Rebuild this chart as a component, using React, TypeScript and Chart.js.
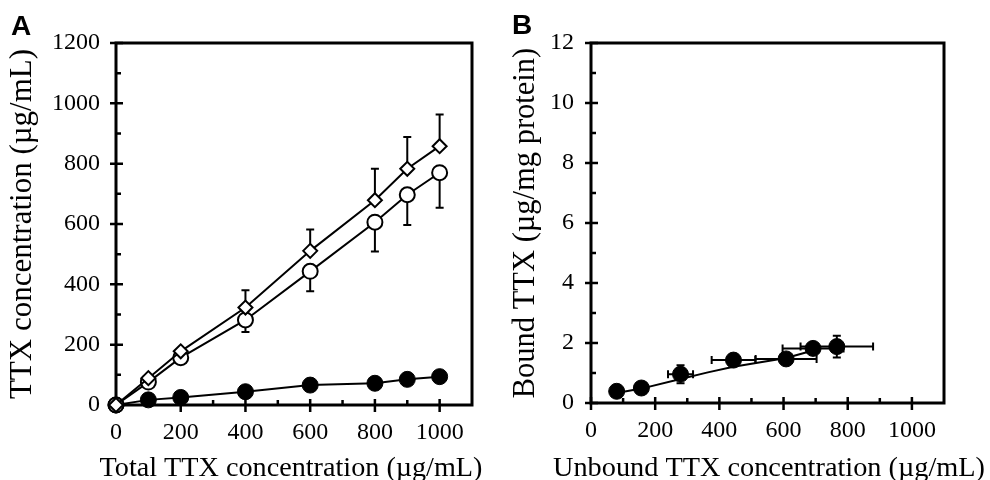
import React, { useEffect, useRef } from "react";
import { Chart, registerables } from "chart.js";
Chart.register(...registerables);

// ---------- Panel A data ----------
const xA = [0, 100, 200, 400, 600, 800, 900, 1000];
const diamondA = [0, 89, 178, 323, 511, 679, 783, 858];
const diamondErrUpA = [0, 0, 0, 57, 71, 104, 105, 105];
const circleA = [0, 76, 157, 282, 443, 606, 697, 770];
const circleErrDownA = [0, 0, 0, 40, 66, 97, 100, 116];
const filledA = [0, 17, 25, 44, 66, 72, 85, 94];
const xTicksA = [0, 200, 400, 600, 800, 1000];
const xMinorA = [100, 300, 500, 700, 900];
const yTicksA = [0, 200, 400, 600, 800, 1000, 1200];
const yMinorA = [100, 300, 500, 700, 900, 1100];

// ---------- Panel B data ----------
const xB = [80, 157, 279, 444, 608, 692, 766];
const yB = [0.39, 0.5, 0.96, 1.43, 1.47, 1.82, 1.88];
const xErrB = [0, 0, 39, 68, 95, 95, 113];
const yErrB = [0, 0, 0.3, 0.05, 0.05, 0.1, 0.36];
const fitXB = [80, 157, 279, 364, 444, 608, 692];
const fitYB = [0.33, 0.48, 0.8, 1.02, 1.21, 1.5, 1.75];
const xTicksB = [0, 200, 400, 600, 800, 1000];
const xMinorB = [100, 300, 500, 700, 900];
const yTicksB = [0, 2, 4, 6, 8, 10, 12];
const yMinorB = [1, 3, 5, 7, 9, 11];

const SERIF = "'Liberation Serif', 'Times New Roman', serif";
const SANS = "'Liberation Sans', Arial, sans-serif";

const pts = (xs: number[], ys: number[]) => xs.map((x, i) => ({ x, y: ys[i] }));

const framePlugin = {
  id: "frame",
  beforeDatasetsDraw(chart: any, _args: any, opts: any) {
    const { ctx, chartArea: ca, scales } = chart;
    ctx.save();
    ctx.strokeStyle = "#000";
    ctx.lineWidth = 3;
    ctx.strokeRect(ca.left, ca.top, ca.right - ca.left, ca.bottom - ca.top);
    ctx.lineWidth = 2.5;
    ctx.beginPath();
    for (const v of opts.xMajor) {
      const p = scales.x.getPixelForValue(v);
      ctx.moveTo(p, ca.bottom - 6);
      ctx.lineTo(p, ca.bottom + 7);
    }
    for (const v of opts.xMinor) {
      const p = scales.x.getPixelForValue(v);
      ctx.moveTo(p, ca.bottom - 5);
      ctx.lineTo(p, ca.bottom);
    }
    for (const v of opts.yMajor) {
      const p = scales.y.getPixelForValue(v);
      ctx.moveTo(ca.left - 6, p);
      ctx.lineTo(ca.left + 7, p);
    }
    for (const v of opts.yMinor) {
      const p = scales.y.getPixelForValue(v);
      ctx.moveTo(ca.left, p);
      ctx.lineTo(ca.left + 5, p);
    }
    ctx.stroke();

    // error bars
    ctx.lineWidth = 2;
    const cap = 4;
    chart.data.datasets.forEach((ds: any, i: number) => {
      const meta = chart.getDatasetMeta(i);
      meta.data.forEach((el: any, j: number) => {
        const d = ds.data[j];
        ctx.beginPath();
        const seg = (y0: number, y1: number) => {
          const a = scales.y.getPixelForValue(y0);
          const b = scales.y.getPixelForValue(y1);
          ctx.moveTo(el.x, a);
          ctx.lineTo(el.x, b);
          ctx.moveTo(el.x - cap, b);
          ctx.lineTo(el.x + cap, b);
        };
        const hseg = (x0: number, x1: number) => {
          const a = scales.x.getPixelForValue(x0);
          const b = scales.x.getPixelForValue(x1);
          ctx.moveTo(a, el.y);
          ctx.lineTo(b, el.y);
          ctx.moveTo(b, el.y - cap);
          ctx.lineTo(b, el.y + cap);
        };
        if (ds.errUp && ds.errUp[j]) seg(d.y, d.y + ds.errUp[j]);
        if (ds.errDown && ds.errDown[j]) seg(d.y, d.y - ds.errDown[j]);
        if (ds.yErr && ds.yErr[j]) {
          seg(d.y, d.y + ds.yErr[j]);
          seg(d.y, d.y - ds.yErr[j]);
        }
        if (ds.xErr && ds.xErr[j]) {
          hseg(d.x, d.x + ds.xErr[j]);
          hseg(d.x, d.x - ds.xErr[j]);
        }
        ctx.stroke();
      });
    });
    ctx.restore();
  },
  afterDraw(chart: any, _args: any, opts: any) {
    const { ctx, chartArea: ca } = chart;
    ctx.save();
    ctx.fillStyle = "#000";
    ctx.font = `bold 28px ${SANS}`;
    ctx.textBaseline = "alphabetic";
    ctx.textAlign = "left";
    ctx.fillText(opts.letter, opts.letterX, opts.letterY);
    // x-axis title (drawn here so it is not squeezed to the axis width)
    ctx.font = `${opts.xTitleSize}px ${SERIF}`;
    ctx.textAlign = "center";
    ctx.fillText(opts.xTitle, (ca.left + ca.right) / 2 + opts.xTitleShift, opts.xTitleBaseline);
    ctx.restore();
  },
};

function makeScales(cfg: any) {
  const tickFont = { family: SERIF, size: 24 };
  return {
    x: {
      type: "linear",
      min: 0,
      max: 1100,
      afterBuildTicks: (s: any) => {
        s.ticks = cfg.xTicks.map((v: number) => ({ value: v }));
      },
      afterFit: (s: any) => {
        s.height = cfg.xHeight;
      },
      grid: { display: false, drawTicks: false },
      border: { display: false },
      ticks: { font: tickFont, color: "#000", padding: 13, maxRotation: 0, autoSkip: false, callback: (v: any) => String(v) },
      title: { display: false },
    },
    y: {
      type: "linear",
      min: 0,
      max: cfg.yMax,
      afterBuildTicks: (s: any) => {
        s.ticks = cfg.yTicks.map((v: number) => ({ value: v }));
      },
      afterFit: (s: any) => {
        s.width = cfg.yWidth;
      },
      grid: { display: false, drawTicks: false },
      border: { display: false },
      ticks: { font: tickFont, color: "#000", padding: cfg.yPad, autoSkip: false, callback: (v: any) => String(v) },
      title: {
        display: true,
        text: cfg.yTitle,
        font: { family: SERIF, size: cfg.yTitleSize, lineHeight: 1.2 },
        color: "#000",
        padding: { top: cfg.yTitlePad, bottom: 0 },
      },
    },
  };
}

function Panel({ which }: { which: "A" | "B" }) {
  const ref = useRef<HTMLCanvasElement | null>(null);
  useEffect(() => {
    if (!ref.current) return;
    let config: any;
    if (which === "A") {
      config = {
        type: "scatter",
        data: {
          datasets: [
            {
              data: pts(xA, diamondA),
              errUp: diamondErrUpA,
              showLine: true,
              borderColor: "#000",
              borderWidth: 2,
              pointStyle: "rectRot",
              pointRadius: 7,
              pointBorderWidth: 2,
              pointBackgroundColor: "#fff",
              pointBorderColor: "#000",
            },
            {
              data: pts(xA, circleA),
              errDown: circleErrDownA,
              showLine: true,
              borderColor: "#000",
              borderWidth: 2,
              pointStyle: "circle",
              pointRadius: 7.5,
              pointBorderWidth: 2,
              pointBackgroundColor: "#fff",
              pointBorderColor: "#000",
            },
            {
              data: pts(xA, filledA),
              showLine: true,
              borderColor: "#000",
              borderWidth: 2,
              pointStyle: "circle",
              pointRadius: 8,
              pointBorderWidth: 1,
              pointBackgroundColor: "#000",
              pointBorderColor: "#000",
            },
          ],
        },
        options: {
          layout: { padding: { left: 0, right: 23, top: 43, bottom: 0 } },
          scales: makeScales({
            xTicks: xTicksA,
            yTicks: yTicksA,
            yMax: 1200,
            xHeight: 75,
            yWidth: 116,
            yPad: 16,
            yTitlePad: 4.5,
            yTitleSize: 31,
            yTitle: "TTX concentration (µg/mL)",
          }),
          plugins: {
            frame: {
              xMajor: xTicksA, xMinor: xMinorA, yMajor: yTicksA, yMinor: yMinorA,
              letter: "A", letterX: 11, letterY: 35,
              xTitle: "Total TTX concentration (µg/mL)", xTitleSize: 28.2, xTitleShift: -3, xTitleBaseline: 476,
            },
          },
        },
      };
    } else {
      config = {
        type: "scatter",
        data: {
          datasets: [
            {
              data: pts(xB, yB),
              xErr: xErrB,
              yErr: yErrB,
              showLine: false,
              pointStyle: "circle",
              pointRadius: 8,
              pointBorderWidth: 1,
              pointBackgroundColor: "#000",
              pointBorderColor: "#000",
            },
            {
              data: pts(fitXB, fitYB),
              showLine: true,
              borderColor: "#000",
              borderWidth: 2,
              pointRadius: 0,
            },
          ],
        },
        options: {
          layout: { padding: { left: 0, right: 46, top: 43, bottom: 0 } },
          scales: makeScales({
            xTicks: xTicksB,
            yTicks: yTicksB,
            yMax: 12,
            xHeight: 77,
            yWidth: 96,
            yPad: 17,
            yTitlePad: 12.5,
            yTitleSize: 30.5,
            yTitle: "Bound TTX (µg/mg protein)",
          }),
          plugins: {
            frame: {
              xMajor: xTicksB, xMinor: xMinorB, yMajor: yTicksB, yMinor: yMinorB,
              letter: "B", letterX: 17, letterY: 34,
              xTitle: "Unbound TTX concentration (µg/mL)", xTitleSize: 28.3, xTitleShift: 1.5, xTitleBaseline: 476,
            },
          },
        },
      };
    }
    config.options.animation = false;
    config.options.responsive = false;
    config.options.devicePixelRatio = 1;
    config.options.clip = false;
    config.options.plugins.legend = { display: false };
    config.options.plugins.tooltip = { enabled: false };
    config.options.elements = { line: { tension: 0 } };
    config.plugins = [framePlugin];
    const chart = new Chart(ref.current, config);
    return () => chart.destroy();
  }, [which]);
  return <canvas ref={ref} width={495} height={480} style={{ display: "block" }} />;
}

export default function App() {
  return (
    <div style={{ position: "absolute", left: 0, top: 0, width: 990, height: 480, background: "#fff", display: "flex" }}>
      <Panel which="A" />
      <Panel which="B" />
    </div>
  );
}
